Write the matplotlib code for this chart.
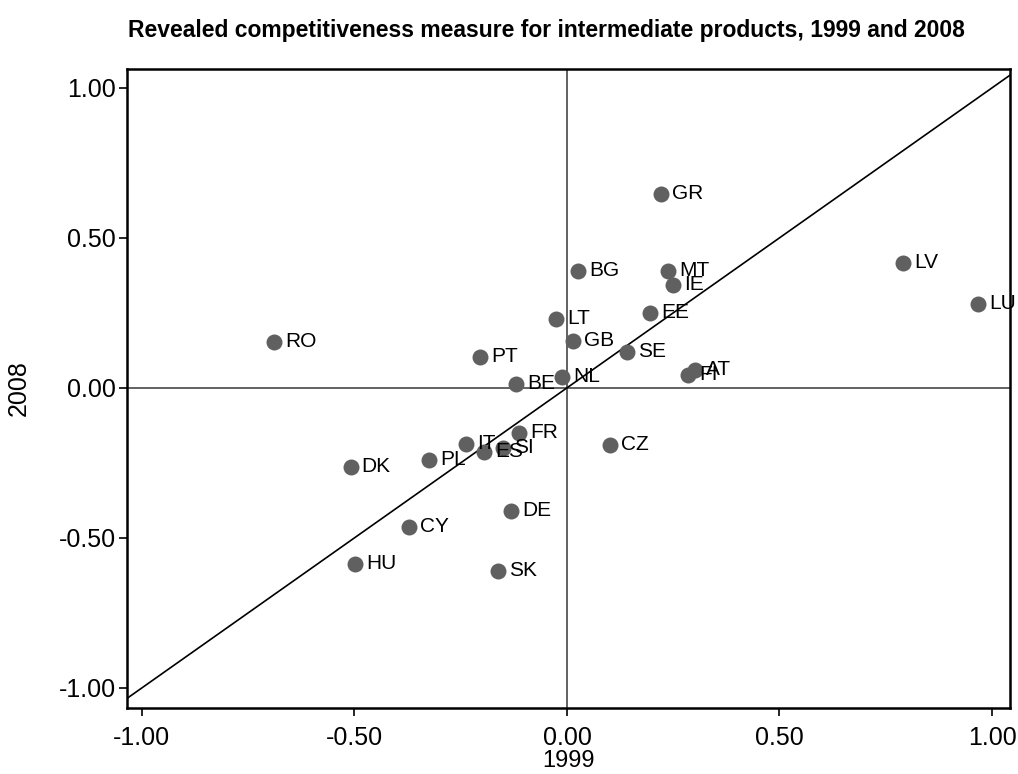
import matplotlib
matplotlib.use("Agg")
import matplotlib.pyplot as plt

plt.rcParams['font.family'] = ['Liberation Sans', 'DejaVu Sans']

countries = ["RO", "DK", "HU", "CY", "PL", "IT", "ES", "SI", "PT", "BE", "FR", "DE", "SK",
             "LT", "NL", "GB", "BG", "CZ", "SE", "GR", "MT", "IE", "EE", "FI", "AT", "LV", "LU"]
x1999 = [-0.689, -0.509, -0.499, -0.372, -0.325, -0.238, -0.195, -0.151, -0.205, -0.120, -0.113,
         -0.132, -0.162, -0.026, -0.012, 0.014, 0.026, 0.101, 0.141, 0.221, 0.238, 0.249, 0.195,
         0.285, 0.301, 0.791, 0.967]
y2008 = [0.153, -0.263, -0.587, -0.463, -0.240, -0.187, -0.213, -0.200, 0.103, 0.013, -0.150,
         -0.410, -0.610, 0.230, 0.037, 0.157, 0.390, -0.190, 0.120, 0.647, 0.390, 0.343, 0.250,
         0.043, 0.060, 0.417, 0.280]
ticks = [-1.0, -0.5, 0.0, 0.5, 1.0]

fig = plt.figure(figsize=(10.18, 7.74), dpi=100)
ax = fig.add_axes([0.1248, 0.0853, 0.992 - 0.1248, 0.9109 - 0.0853])

ax.axhline(0, color="#555555", lw=1.3, zorder=1)
ax.axvline(0, color="#555555", lw=1.3, zorder=1)
ax.plot([-1.1, 1.1], [-1.1, 1.1], color="black", lw=1.2, zorder=2)

ax.scatter(x1999, y2008, s=11.5 ** 2, color="#606060", zorder=3, linewidths=0)
for c, xv, yv in zip(countries, x1999, y2008):
    ax.annotate(c, (xv, yv), xytext=(8, 0), textcoords="offset points",
                va="center", ha="left", fontsize=15, zorder=4)

ax.set_xlim(-1.035, 1.042)
ax.set_ylim(-1.067, 1.063)
ax.set_xticks(ticks)
ax.set_yticks(ticks)
ax.set_xticklabels(["%.2f" % t for t in ticks])
ax.set_yticklabels(["%.2f" % t for t in ticks])
ax.tick_params(labelsize=18, length=6, width=1.2, color="black")
ax.tick_params(axis="x", pad=7)
ax.tick_params(axis="y", pad=2)
for sp in ax.spines.values():
    sp.set_linewidth(1.8)
    sp.set_color("black")

ax.set_xlabel("1999", fontsize=17)
ax.xaxis.set_label_coords(0.5, -0.066)
ax.set_ylabel("2008", fontsize=18, labelpad=20)

fig.text(0.537, 0.961, "Revealed competitiveness measure for intermediate products, 1999 and 2008",
         ha="center", va="center", fontsize=16.5, fontweight="bold")

fig.savefig("out.png", dpi=100)
